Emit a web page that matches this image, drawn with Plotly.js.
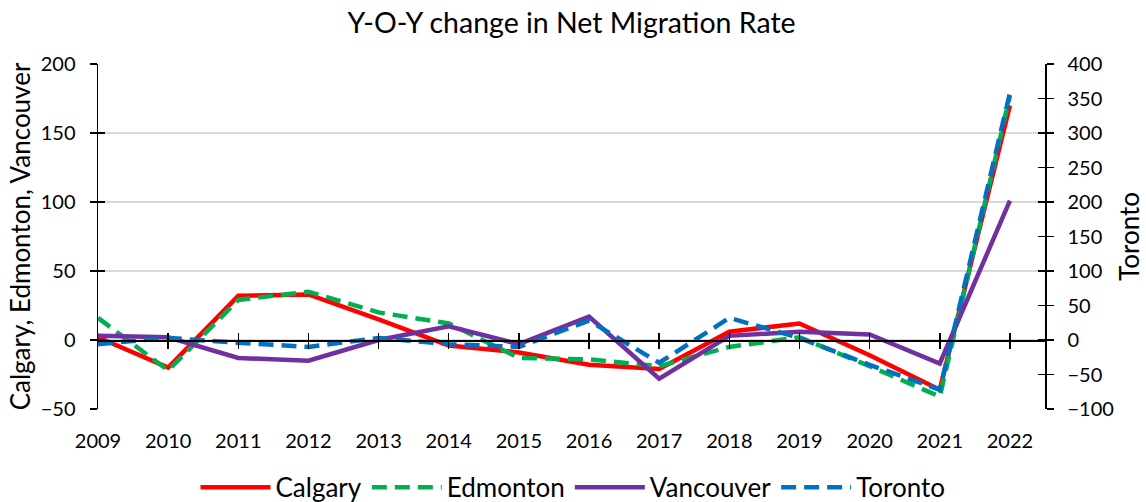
<!DOCTYPE html>
<html>
<head>
<meta charset="utf-8">
<script src="https://cdn.plot.ly/plotly-3.0.1.min.js"></script>
<style>html,body{margin:0;padding:0;background:#fff;}#chart{width:1146px;height:502px;}</style>
</head>
<body>
<div id="chart"></div>
<script>
const years = [2009,2010,2011,2012,2013,2014,2015,2016,2017,2018,2019,2020,2021,2022];
const calgary   = [2,-20,32,33,15,-4,-9,-18,-21,6,12,-11,-36,170];
const edmonton  = [16,-22,29,35,20,12,-13,-14,-19,-5,2,-19,-41,177];
const vancouver = [3,2,-13,-15,0,10,-3,17,-28,3,6,4,-17,101];
const toronto   = [-6,3,-4,-10,3,-6,-10,28,-33,32,3,-36,-72,358];
const tickYears = years.map(String);

const FONT = 'Lato, sans-serif';
const empty = years.map(() => null);
const dummy = (xa, ya) => ({x: years, y: empty, xaxis: xa, yaxis: ya, showlegend: false,
  hoverinfo: 'skip', type: 'scatter', mode: 'lines'});
const traces = [
  {x: years, y: calgary, name: 'Calgary', type: 'scatter', mode: 'lines',
   line: {color: '#FF0000', width: 4.5}},
  {x: years, y: edmonton, name: 'Edmonton', type: 'scatter', mode: 'lines',
   line: {color: '#00B050', width: 4.5, dash: '15px,8px'}},
  {x: years, y: vancouver, name: 'Vancouver', type: 'scatter', mode: 'lines',
   line: {color: '#7030A0', width: 4.5}},
  {x: years, y: toronto, name: 'Toronto', type: 'scatter', mode: 'lines', yaxis: 'y2',
   line: {color: '#0070C0', width: 4.5, dash: '15px,8px'}},
  dummy('x2', 'y'), dummy('x3', 'y'), dummy('x', 'y3'), dummy('x', 'y4')
];

const xr = [2009, 2022.5];
const tk = {tickwidth: 1.5, tickcolor: '#000', ticklen: 7};
const layout = {
  width: 1146, height: 502,
  margin: {l: 98, r: 101, t: 64, b: 93},
  paper_bgcolor: '#fff', plot_bgcolor: '#fff',
  font: {family: FONT, color: '#000', size: 20},
  title: {text: 'Y-O-Y change in Net Migration Rate', font: {family: FONT, size: 28.5, color: '#000'},
          x: 0.5, xanchor: 'center', xref: 'paper', y: 0.954, yanchor: 'middle'},
  xaxis: {range: xr, tickvals: years, ticktext: tickYears, showline: false, showgrid: false,
          zeroline: false, ticks: '', tickfont: {size: 20}, ticklabelstandoff: 18},
  xaxis2: Object.assign({overlaying: 'x', anchor: 'free', position: 0.2, range: xr, tickvals: years.slice(1),
           showticklabels: false, showline: true, linecolor: '#000', linewidth: 1.5,
           ticks: 'outside', showgrid: false, zeroline: false}, tk),
  xaxis3: Object.assign({overlaying: 'x', anchor: 'free', position: 0.2, range: xr, tickvals: years.slice(1),
           showticklabels: false, showline: false,
           ticks: 'inside', showgrid: false, zeroline: false}, tk),
  yaxis: Object.assign({range: [-50, 200], dtick: 50, tick0: 0, showline: true, linecolor: '#000', linewidth: 1.5,
          ticks: 'outside', tickfont: {size: 20}, ticklabelstandoff: 10,
          showgrid: true, gridcolor: '#d9d9d9', gridwidth: 1.5, zeroline: false,
          title: {text: 'Calgary, Edmonton, Vancouver', font: {size: 26}, standoff: 2}}, tk),
  yaxis2: Object.assign({overlaying: 'y', side: 'right', range: [-100, 400], dtick: 50, tick0: 0,
           showline: true, linecolor: '#000', linewidth: 1.5,
           ticks: 'outside', tickfont: {size: 20}, ticklabelstandoff: 10,
           showgrid: false, zeroline: false,
           title: {text: 'Toronto', font: {size: 26}, standoff: 8}}, tk),
  yaxis3: Object.assign({overlaying: 'y', side: 'left', range: [-50, 200], dtick: 50, tick0: 0,
           showline: false, showticklabels: false, ticks: 'inside', showgrid: false, zeroline: false}, tk),
  yaxis4: Object.assign({overlaying: 'y', side: 'right', range: [-100, 400], dtick: 50, tick0: 0,
           showline: false, showticklabels: false, ticks: 'inside', showgrid: false, zeroline: false}, tk),
  legend: {orientation: 'h', x: 0.5, xref: 'container', xanchor: 'center', y: 0.076, yref: 'container', yanchor: 'top',
           font: {size: 26}, itemwidth: 70, tracegroupgap: 0}
};

Plotly.newPlot('chart', traces, layout, {displayModeBar: false, staticPlot: true});
</script>
</body>
</html>
